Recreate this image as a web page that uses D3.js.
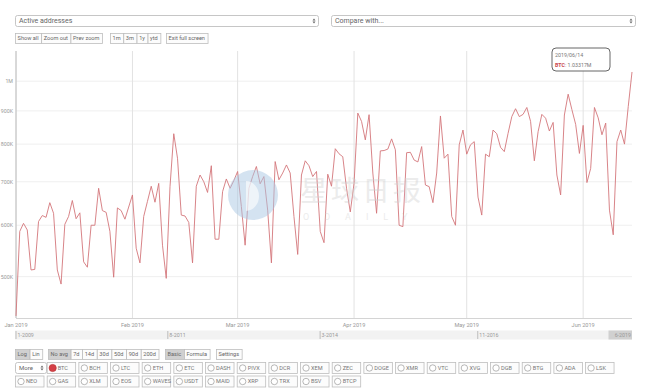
<!DOCTYPE html>
<html>
<head>
<meta charset="utf-8">
<script src="https://cdn.jsdelivr.net/npm/d3@7"></script>
<style>
  body { margin: 0; background: #fff; }
  svg { display: block; font-family: Roboto, "Liberation Sans", Arial, sans-serif; }
</style>
</head>
<body>
<div id="chart"></div>
<script>
// BTC active addresses, daily from 2019-01-01 to 2019-06-14
const startDate = new Date(2019, 0, 1);
const activeAddresses = [
  435000, 587000, 604000, 590000, 512000, 513000, 608000, 621000, 617000, 650000,
  626000, 512000, 487000, 602000, 619000, 655000, 614000, 627000, 527000, 517000,
  600000, 600000, 684000, 632000, 628000, 587000, 499000, 638000, 632000, 613000,
  640000, 668000, 553000, 525000, 619000, 653000, 689000, 651000, 696000, 559000,
  497000, 688000, 830000, 761000, 622000, 620000, 606000, 525000, 689000, 717000,
  700000, 674000, 741000, 571000, 571000, 676000, 707000, 684000, 703000, 726000,
  641000, 559000, 684000, 713000, 739000, 695000, 713000, 633000, 525000, 752000,
  705000, 722000, 743000, 722000, 619000, 541000, 717000, 754000, 741000, 713000,
  726000, 587000, 564000, 719000, 689000, 787000, 773000, 765000, 684000, 629000,
  696000, 893000, 867000, 812000, 888000, 722000, 626000, 781000, 782000, 786000,
  815000, 784000, 600000, 597000, 776000, 777000, 756000, 751000, 793000, 692000,
  688000, 650000, 722000, 884000, 761000, 772000, 619000, 600000, 798000, 841000,
  772000, 798000, 807000, 663000, 622000, 772000, 765000, 841000, 830000, 791000,
  779000, 831000, 882000, 907000, 882000, 889000, 911000, 867000, 754000, 836000,
  889000, 877000, 838000, 864000, 717000, 668000, 887000, 955000, 904000, 858000,
  774000, 855000, 698000, 734000, 911000, 878000, 827000, 862000, 633000, 580000,
  807000, 841000, 800000, 914000, 1033170
];

const yTickValues = [500000, 600000, 700000, 800000, 900000, 1000000];
const yTickLabels = ["500K", "600K", "700K", "800K", "900K", "1M"];
const monthTicks = [0, 1, 2, 3, 4, 5].map(m => new Date(2019, m, 1));
const monthLabels = ["Jan 2019", "Feb 2019", "Mar 2019", "Apr 2019", "May 2019", "Jun 2019"];

const navTicks = [new Date(2009, 0, 3), new Date(2011, 7, 1), new Date(2014, 2, 1), new Date(2016, 10, 1)];
const navLabels = ["1-2009", "8-2011", "3-2014", "11-2016"];
const navEndLabel = "6-2019";

const zoomButtons = ["Show all", "Zoom out", "Prev zoom"];
const rangeButtons = ["1m", "3m", "1y", "ytd"];
const screenButtons = ["Exit full screen"];
const scaleButtons = ["Log", "Lin"];
const avgButtons = ["No avg", "7d", "14d", "30d", "50d", "90d", "200d"];
const modeButtons = ["Basic", "Formula"];
const settingsButtons = ["Settings"];
const coinsRow1 = ["BTC", "BCH", "LTC", "ETH", "ETC", "DASH", "PIVX", "DCR", "XEM", "ZEC",
  "DOGE", "XMR", "VTC", "XVG", "DGB", "BTG", "ADA", "LSK"];
const coinsRow2 = ["NEO", "GAS", "XLM", "EOS", "WAVES", "USDT", "MAID", "XRP", "TRX", "BSV", "BTCP"];

const lineColor = "#d4767b";
const W = 650, H = 391;

const svg = d3.select("#chart").append("svg").attr("width", W).attr("height", H);

/**
 * Draws a row of joined buttons, widths taken from their labels.
 */
function buttonGroup(x, y, h, labels, activeIdx) {
  let cx = x;
  labels.forEach((label, i) => {
    const g = svg.append("g");
    const rect = g.append("rect");
    const t = g.append("text")
      .attr("x", cx + 2.6).attr("y", y + h / 2 + 0.5).attr("dy", "0.35em")
      .attr("font-size", 5.6).attr("fill", "#666").text(label);
    const w = t.node().getComputedTextLength() + 5.2;
    rect.attr("x", cx + 0.5).attr("y", y + 0.5).attr("width", w).attr("height", h)
      .attr("fill", i === activeIdx ? "#d0d0d0" : "#fcfcfc")
      .attr("stroke", "#bdbdbd").attr("stroke-width", 0.8);
    cx += w;
  });
  return cx;
}

/**
 * Draws a select box with the up/down arrow mark.
 */
function selectBox(x, y, w, h, label, size) {
  svg.append("rect").attr("x", x + 0.5).attr("y", y + 0.5).attr("width", w).attr("height", h)
    .attr("rx", 2).attr("fill", "#fff").attr("stroke", "#b8b8b8").attr("stroke-width", 0.8);
  svg.append("text").attr("x", x + 4).attr("y", y + h / 2 + 0.5).attr("dy", "0.35em")
    .attr("font-size", size).attr("fill", "#666").text(label);
  const ax = x + w - 4, ay = y + h / 2 + 0.5;
  svg.append("path").attr("d", `M${ax - 1.5},${ay - 0.6}L${ax},${ay - 2.5}L${ax + 1.5},${ay - 0.6}Z`
    + `M${ax - 1.5},${ay + 0.6}L${ax},${ay + 2.5}L${ax + 1.5},${ay + 0.6}Z`).attr("fill", "#666");
}

// ---- top controls
selectBox(15, 15, 303, 11, "Active addresses", 7);
selectBox(331, 15, 304, 11, "Compare with...", 7);
buttonGroup(15, 33, 10, zoomButtons, -1);
buttonGroup(110, 33, 10, rangeButtons, -1);
buttonGroup(166, 33, 10, screenButtons, -1);

// ---- main chart
const x = d3.scaleTime().domain([startDate, new Date(2019, 5, 14)]).range([16, 632]);
const y = d3.scaleLog().domain([431800, 1113000]).range([318, 51]);
const data = activeAddresses.map((v, i) => ({ date: d3.timeDay.offset(startDate, i), value: v }));

svg.append("g").selectAll("line").data(yTickValues).join("line")
  .attr("x1", 16).attr("x2", 632).attr("y1", d => y(d)).attr("y2", d => y(d))
  .attr("stroke", "#efefef").attr("stroke-width", 1);

svg.append("g").selectAll("line").data(monthTicks).join("line")
  .attr("x1", d => x(d)).attr("x2", d => x(d)).attr("y1", 51).attr("y2", 318)
  .attr("stroke", "#e2e2e2").attr("stroke-width", 1);

svg.append("line").attr("x1", 16).attr("x2", 16).attr("y1", 51).attr("y2", 318)
  .attr("stroke", "#c0c0c0");
svg.append("line").attr("x1", 16).attr("x2", 632).attr("y1", 318.5).attr("y2", 318.5)
  .attr("stroke", "#d4d4d4");

svg.append("g").selectAll("text").data(yTickValues).join("text")
  .attr("x", 13).attr("y", d => y(d)).attr("dy", "0.35em").attr("text-anchor", "end")
  .attr("font-size", 5.3).attr("fill", "#999").text((d, i) => yTickLabels[i]);

svg.append("g").selectAll("text").data(monthTicks).join("text")
  .attr("x", d => x(d)).attr("y", 326.5).attr("text-anchor", "middle")
  .attr("font-size", 5.6).attr("fill", "#999").text((d, i) => monthLabels[i]);

const line = d3.line().x(d => x(d.date)).y(d => y(d.value));
svg.append("path").datum(data).attr("d", line)
  .attr("fill", "none").attr("stroke", lineColor).attr("stroke-width", 0.9)
  .attr("stroke-linejoin", "round");

// ---- watermark
const wm = svg.append("g");
wm.append("circle").attr("cx", 253).attr("cy", 195).attr("r", 25)
  .attr("fill", "#a9c8e4").attr("opacity", 0.5);
wm.append("path").attr("d", "M246,181L246,211A13,15 0 0 0 246,181Z")
  .attr("fill", "#fff").attr("opacity", 0.6);
wm.append("text").attr("x", 300).attr("y", 201).attr("font-size", 28)
  .attr("font-family", "'Noto Sans CJK SC'").attr("letter-spacing", 3)
  .attr("fill", "#d0d0d0").attr("opacity", 0.4).text("星球日报");
wm.append("text").attr("x", 303).attr("y", 220).attr("font-size", 9)
  .attr("letter-spacing", 15).attr("fill", "#d0d0d0").attr("opacity", 0.4).text("ODAILY");

// ---- tooltip
const last = data[data.length - 1];
svg.append("rect").attr("x", 552).attr("y", 48).attr("width", 58).attr("height", 23)
  .attr("rx", 4).attr("fill", "#fff").attr("fill-opacity", 0.95)
  .attr("stroke", "#666").attr("stroke-width", 1);
svg.append("text").attr("x", 555).attr("y", 57).attr("font-size", 5.3).attr("fill", "#777")
  .text(d3.timeFormat("%Y/%m/%d")(last.date));
const tt = svg.append("text").attr("x", 555).attr("y", 66.5).attr("font-size", 5.3).attr("fill", "#777");
tt.append("tspan").attr("font-weight", "bold").attr("fill", "#c9494f").text("BTC");
tt.append("tspan").text(": " + d3.format(".6~s")(last.value));

// ---- navigator
const nav = d3.scaleTime().domain([new Date(2009, 0, 3), new Date(2019, 5, 14)]).range([16, 632]);
svg.append("rect").attr("x", 15).attr("y", 330.5).attr("width", 617).attr("height", 9).attr("fill", "#f2f2f2");
svg.append("rect").attr("x", nav(startDate) + 3).attr("y", 330.5)
  .attr("width", 632 - nav(startDate) - 3).attr("height", 9).attr("fill", "#d0d0d0");
svg.append("g").selectAll("line").data(navTicks).join("line")
  .attr("x1", d => nav(d)).attr("x2", d => nav(d)).attr("y1", 331).attr("y2", 339)
  .attr("stroke", "#999").attr("stroke-width", 0.6);
svg.append("g").selectAll("text").data(navTicks).join("text")
  .attr("x", d => nav(d) + 1.5).attr("y", 335).attr("dy", "0.35em")
  .attr("font-size", 5.3).attr("fill", "#999").text((d, i) => navLabels[i]);
svg.append("text").attr("x", 631).attr("y", 335).attr("dy", "0.35em").attr("text-anchor", "end")
  .attr("font-size", 5.3).attr("fill", "#999").text(navEndLabel);

// ---- bottom controls
buttonGroup(15, 349, 10, scaleButtons, 0);
buttonGroup(48, 349, 10, avgButtons, 0);
buttonGroup(165, 349, 10, modeButtons, 0);
buttonGroup(216, 349, 10, settingsButtons, -1);

/**
 * Draws one coin toggle with its radio circle.
 */
function coinButton(cx, cy, label, checked) {
  svg.append("rect").attr("x", cx + 0.5).attr("y", cy + 0.5).attr("width", 28.5).attr("height", 11)
    .attr("fill", "#fcfcfc").attr("stroke", "#bdbdbd").attr("stroke-width", 0.8);
  svg.append("circle").attr("cx", cx + 6).attr("cy", cy + 6).attr("r", checked ? 3.6 : 3.2)
    .attr("fill", checked ? "#d43f46" : "#fff").attr("stroke", checked ? "#b33" : "#9a9a9a")
    .attr("stroke-width", 0.7);
  svg.append("text").attr("x", cx + 11).attr("y", cy + 6).attr("dy", "0.35em")
    .attr("font-size", 5.6).attr("fill", "#777").text(label);
}

const colStep = 31.67;
selectBox(15, 362, 31, 11, "More", 6);
coinsRow1.forEach((c, i) => coinButton(15 + colStep * (i + 1), 362, c, c === "BTC"));
coinsRow2.forEach((c, i) => coinButton(15 + colStep * i, 375.5, c, false));
</script>
</body>
</html>
